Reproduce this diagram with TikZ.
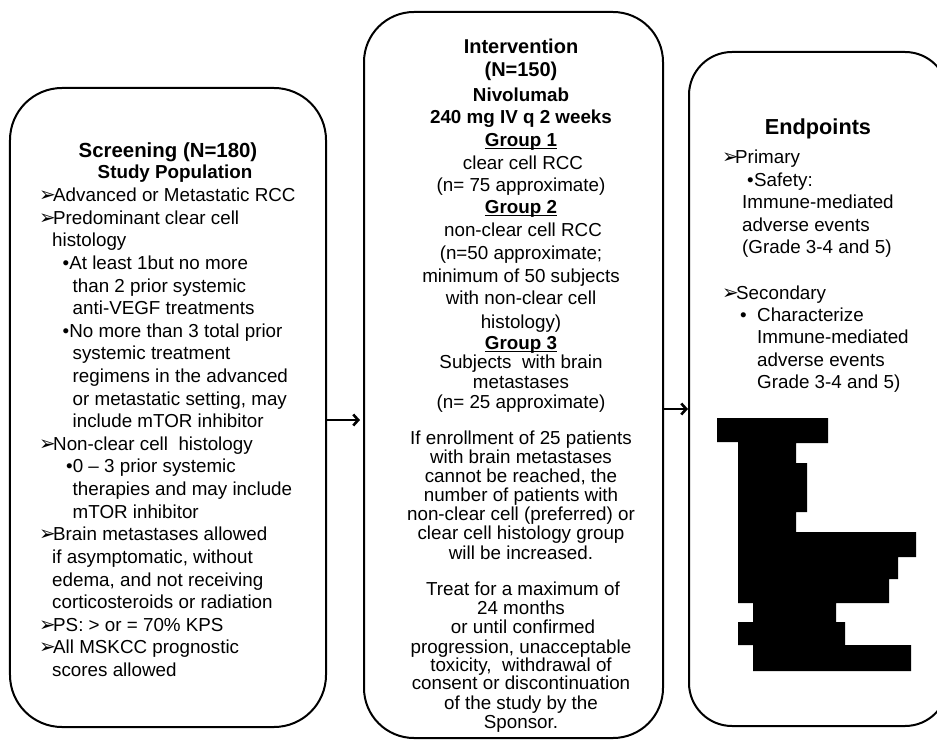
\documentclass[tikz,border=0pt]{standalone}
\usepackage{fontspec}
\setmainfont{Liberation Sans}
\newfontfamily\dvfont{DejaVu Sans}
\usetikzlibrary{arrows.meta}
\newcommand\fs{\fontsize{18.8bp}{22.6bp}\selectfont}
\newcommand\abul{\makebox[14bp][l]{\dvfont\fontsize{20bp}{20bp}\selectfont ➢}}
\newcommand\dotb[1]{\makebox[#1][l]{•}}
\newcommand\ulg[1]{\setbox0\hbox{#1}\rlap{\rule[-2.8bp]{\wd0}{1.6bp}}\box0}
\newcommand\Lt[4]{\node[lt] (#1) at (#2,#3+6.5) {#4};}
\newcommand\Ct[4]{\node[ct] (#1) at (#2,#3+6.5) {#4};}
\newcommand\Bt[4]{\node[ct,font=\fs\bfseries] (#1) at (#2,#3+6.5) {#4};}
\begin{document}
\begin{tikzpicture}[x=1bp,y=-1bp,
  box/.style={draw, line width=2bp, fill=white, rounded corners=#1, inner sep=0pt},
  lt/.style={anchor=base west, inner sep=0pt, font=\fs},
  ct/.style={anchor=base, inner sep=0pt, font=\fs},
  arr/.style={line width=2.6bp, -{Straight Barb[length=5bp,width=11bp]}}]
\useasboundingbox (0,0) rectangle (937,740);
% boxes
\node[box=52bp, minimum width=316bp, minimum height=639bp] (scr) at (168,407.5) {};
\node[box=50bp, minimum width=299bp, minimum height=726bp] (int) at (513.5,375) {};
\node[box=43bp, minimum width=259bp, minimum height=674bp] (end) at (818.5,389) {};
% arrows
\coordinate (a1) at (0,420);
\coordinate (a2) at (0,409);
\draw[arr, shorten >=3bp] (scr.east |- a1) -- (int.west |- a1);
\draw[arr] (int.east |- a2) -- (end.west |- a2);
% left box
\node[ct, font=\fontsize{20.4bp}{22bp}\selectfont\bfseries] (s0) at (168,150+7) {Screening (N=180)};
\Bt{s1}{175}{172}{Study Population}
\Lt{s2}{39}{195}{\abul Advanced or Metastatic RCC}
\Lt{s3}{39}{217.6}{\abul Predominant clear cell}
\Lt{s4}{52}{240.2}{histology}
\Lt{s5}{62.5}{262.9}{•At least 1but no more}
\Lt{s6}{72.5}{285.5}{than 2 prior systemic}
\Lt{s7}{72.5}{308.1}{anti-VEGF treatments}
\Lt{s8}{62.5}{330.7}{•No more than 3 total prior}
\Lt{s9}{72.5}{353.3}{systemic treatment}
\Lt{s10}{72.5}{376}{regimens in the advanced}
\Lt{s11}{72.5}{398.6}{or metastatic setting, may}
\Lt{s12}{72.5}{421.2}{include mTOR inhibitor}
\Lt{s13}{39}{443.8}{\abul Non-clear cell~ histology}
\Lt{s14}{66}{466.4}{•0 – 3 prior systemic}
\Lt{s15}{72.5}{489.1}{therapies and may include}
\Lt{s16}{72.5}{511.7}{mTOR inhibitor}
\Lt{s17}{39}{534.3}{\abul Brain metastases allowed}
\Lt{s18}{52}{556.9}{if asymptomatic, without}
\Lt{s19}{52}{579.5}{edema, and not receiving}
\Lt{s20}{52}{602.2}{corticosteroids or radiation}
\Lt{s21}{39}{624.8}{\abul PS: > or = 70\% KPS}
\Lt{s22}{39}{647.4}{\abul All MSKCC prognostic}
\Lt{s23}{52}{670}{scores allowed}
% middle box
\node[ct, font=\fontsize{20bp}{22bp}\selectfont\bfseries] (m0) at (521,47+7) {Intervention};
\node[ct, font=\fontsize{20bp}{22bp}\selectfont\bfseries] (m1) at (521,70+7) {(N=150)};
\Bt{m2}{521}{95}{Nivolumab}
\Bt{m3}{521}{117}{240 mg IV q 2 weeks}
\Bt{m4}{521}{140}{\ulg{Group 1}}
\Ct{m5}{523}{163}{clear cell RCC}
\Ct{m6}{521}{185}{(n= 75 approximate)}
\Bt{m7}{521}{207}{\ulg{Group 2}}
\Ct{m8}{523}{230}{non-clear cell RCC}
\Ct{m9}{521}{253}{(n=50 approximate;}
\Ct{m10}{521}{276}{minimum of 50 subjects}
\Ct{m11}{521}{298}{with non-clear cell}
\Ct{m12}{521}{322}{histology)}
\Bt{m13}{521}{343}{\ulg{Group 3}}
\Ct{m14}{521}{362}{Subjects~ with brain}
\Ct{m15}{521}{382}{metastases}
\Ct{m16}{521}{402}{(n= 25 approximate)}
\Ct{m17}{521}{438}{If enrollment of 25 patients}
\Ct{m18}{521}{457}{with brain metastases}
\Ct{m19}{521}{476}{cannot be reached, the}
\Ct{m20}{521}{495}{number of patients with}
\Ct{m21}{521}{514}{non-clear cell (preferred) or}
\Ct{m22}{521}{533}{clear cell histology group}
\Ct{m23}{521}{553}{will be increased.}
\Ct{m24}{523}{589}{Treat for a maximum of}
\Ct{m25}{521}{608}{24 months}
\Ct{m26}{523}{627}{or until confirmed}
\Ct{m27}{521}{647}{progression, unacceptable}
\Ct{m28}{521}{665}{toxicity,~ withdrawal of}
\Ct{m29}{521}{683}{consent or discontinuation}
\Ct{m30}{521}{703}{of the study by the}
\Ct{m31}{521}{722}{Sponsor.}
% right box
\node[ct, font=\fontsize{21.7bp}{22bp}\selectfont\bfseries] (e0) at (818,127+7.5) {Endpoints};
\Lt{e1}{722}{157}{\makebox[13bp][l]{\dvfont\fontsize{20bp}{20bp}\selectfont ➢}Primary}
\Lt{e2}{747}{180}{\dotb{7bp}Safety:}
\Lt{e3}{742}{202}{Immune-mediated}
\Lt{e4}{742}{225}{adverse events}
\Lt{e5}{742}{247}{(Grade 3-4 and 5)}
\Lt{e6}{722}{293}{\abul Secondary}
\Lt{e7}{740}{315}{\dotb{17bp}Characterize}
\Lt{e8}{757}{337}{Immune-mediated}
\Lt{e9}{757}{360}{adverse events}
\Lt{e10}{757}{382}{Grade 3-4 and 5)}
% redaction block
\fill (717,418) -- (828,418) -- (828,443) -- (796,443) -- (796,463) -- (807,463)
  -- (807,512) -- (796,512) -- (796,532) -- (916,532) -- (916,557) -- (898,557)
  -- (898,579) -- (889,579) -- (889,603) -- (836,603) -- (836,622) -- (845,622)
  -- (845,645) -- (911,645) -- (911,671) -- (753,671) -- (753,645) -- (738,645)
  -- (738,622) -- (753,622) -- (753,603) -- (738,603) -- (738,442) -- (717,442) -- cycle;
\end{tikzpicture}
\end{document}
